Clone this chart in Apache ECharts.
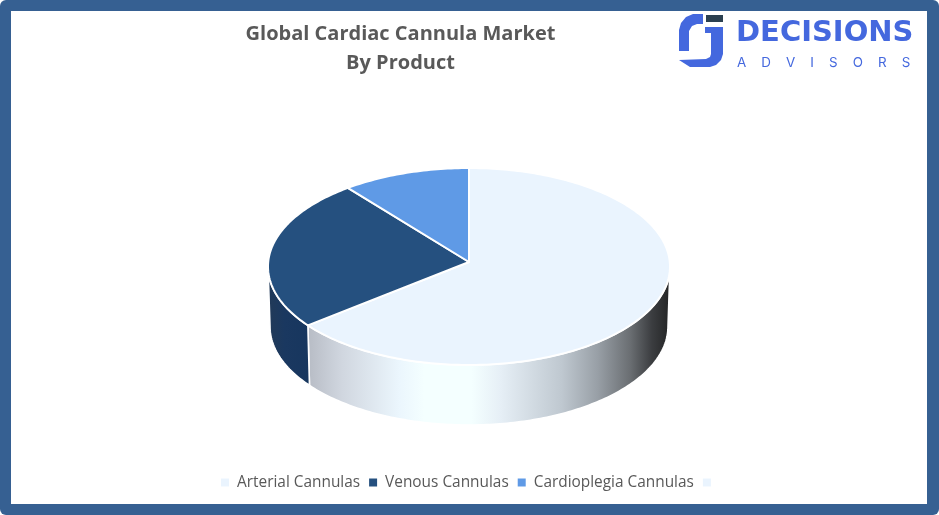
<!DOCTYPE html>
<html><head><meta charset="utf-8">
<style>html,body{margin:0;padding:0;background:#fff}#c{width:939px;height:515px}</style>
<script src="https://cdn.jsdelivr.net/npm/echarts@6/dist/echarts.min.js"></script>
</head><body><div id="c"></div>
<script>
const titleLines = ['Global Cardiac Cannula Market', 'By Product'];
const categories = ['Arterial Cannulas', 'Venous Cannulas', 'Cardioplegia Cannulas', ' '];
const shares = [64.8, 24.9, 10.3, 0];
const topColors = ['#EAF4FE', '#25507F', '#5F9AE6', '#EAF4FE'];

const cx = 469, cy = 266.5, apexY = 262, rx = 201, ry = 98.5, depth = 60, rxBottom = 199;
const total = shares.reduce((a, b) => a + b, 0);
const starts = shares.map((_, i) => shares.slice(0, i).reduce((a, b) => a + b, 0));
const rad = d => d * Math.PI / 180;
const toDeg = v => v / total * 360;

const sideFills = [
  new echarts.graphic.LinearGradient(309, 0, 670, 0, [
    {offset: 0, color: '#B8BDC6'}, {offset: 0.09, color: '#D0D6DF'}, {offset: 0.25, color: '#EBF6FD'},
    {offset: 0.32, color: '#F4FFFF'}, {offset: 0.45, color: '#F4FFFF'}, {offset: 0.53, color: '#E6EFF6'},
    {offset: 0.70, color: '#BFC8D0'}, {offset: 0.80, color: '#989FA6'}, {offset: 0.89, color: '#6A6E72'},
    {offset: 0.95, color: '#3B3D40'}, {offset: 1, color: '#232425'}], true),
  new echarts.graphic.LinearGradient(268, 0, 310, 0, [
    {offset: 0, color: '#223A58'}, {offset: 0.4, color: '#1A3860'}, {offset: 1, color: '#17365E'}], true)
];

function slice(idx) {
  return function (params, api) {
    const a0 = toDeg(starts[idx]), a1 = a0 + toDeg(api.value(0));
    const top = [[cx, apexY]];
    for (let a = a0; a <= a1 + 1e-6; a += Math.min(1, a1 - a0 || 1)) {
      top.push([cx + rx * Math.sin(rad(a)), cy - ry * Math.cos(rad(a))]);
    }
    top.push([cx + rx * Math.sin(rad(a1)), cy - ry * Math.cos(rad(a1))]);
    const children = [];
    const s0 = Math.max(a0, 90), s1 = Math.min(a1, 270);
    if (s1 > s0) {
      const upper = [], lower = [];
      for (let a = s0; a <= s1 + 1e-6; a += 1) {
        upper.push([cx + rx * Math.sin(rad(a)), cy - ry * Math.cos(rad(a))]);
        lower.push([cx + rxBottom * Math.sin(rad(a)), cy + depth - ry * Math.cos(rad(a))]);
      }
      upper.push([cx + rx * Math.sin(rad(s1)), cy - ry * Math.cos(rad(s1))]);
      lower.push([cx + rxBottom * Math.sin(rad(s1)), cy + depth - ry * Math.cos(rad(s1))]);
      children.push({type: 'polygon', shape: {points: upper.concat(lower.reverse())},
        style: {fill: sideFills[idx], stroke: '#fff', lineWidth: 1.6}});
    }
    children.push({type: 'polygon', shape: {points: top},
      style: {fill: topColors[idx], stroke: '#fff', lineWidth: 2, lineJoin: 'round'}});
    return {type: 'group', children};
  };
}

const logoBlue = '#4468DE';
const frameBlue = '#366092';
const chart = echarts.init(document.getElementById('c'), null, {renderer: 'canvas'});
chart.setOption({
  animation: false,
  backgroundColor: '#fff',
  title: {
    text: titleLines.join('\n'), left: 395.5, top: 15, textAlign: 'center',
    textStyle: {fontFamily: 'Open Sans', fontWeight: 700, fontSize: 20, lineHeight: 29, color: '#595959'}
  },
  legend: {
    data: categories, left: 216, top: 470, icon: 'rect', itemWidth: 8, itemHeight: 8, itemGap: 9,
    selectedMode: false,
    textStyle: {fontFamily: 'Open Sans', fontSize: 15.4, color: '#595959', padding: [0, 0, 0, 3]}
  },
  graphic: {elements: [
    {type: 'rect', z: -10, silent: true, shape: {x: 0, y: 0, width: 939, height: 515, r: 6}, style: {fill: frameBlue}},
    {type: 'rect', z: -9, silent: true, shape: {x: 11, y: 11, width: 916, height: 493}, style: {fill: '#fff'}},
    {type: 'polygon', silent: true, shape: {points: [[703,14],[703,24],[697,24],[692,26],[689,31],[689,51],[679,51],[679,30],[681,23],[686,17],[693,14]]}, style: {fill: logoBlue}},
    {type: 'polygon', silent: true, shape: {points: [[705,27],[723,27],[723,54],[721,60],[716,65],[710,67],[690,67],[679,60],[706,59],[710,57],[711,54],[711,33],[705,33]]}, style: {fill: logoBlue}},
    {type: 'rect', silent: true, shape: {x: 706, y: 15, width: 17, height: 7}, style: {fill: '#2B4050'}},
    {type: 'text', silent: true, x: 736, y: 19, style: {text: 'DECISIONS', fontFamily: 'DejaVu Sans', fontWeight: 700, fontSize: 29, fill: logoBlue}},
    {type: 'text', silent: true, x: 737, y: 56, style: {text: 'A    D    V    I    S    O    R    S', fontFamily: 'Inter', fontWeight: 400, fontSize: 13.4, fill: logoBlue}}
  ]},
  series: categories.map((name, i) => ({
    type: 'custom', name, coordinateSystem: 'none', renderItem: slice(i),
    itemStyle: {color: topColors[i]},
    data: shares[i] > 0 ? [[shares[i]]] : []
  }))
});
</script></body></html>
